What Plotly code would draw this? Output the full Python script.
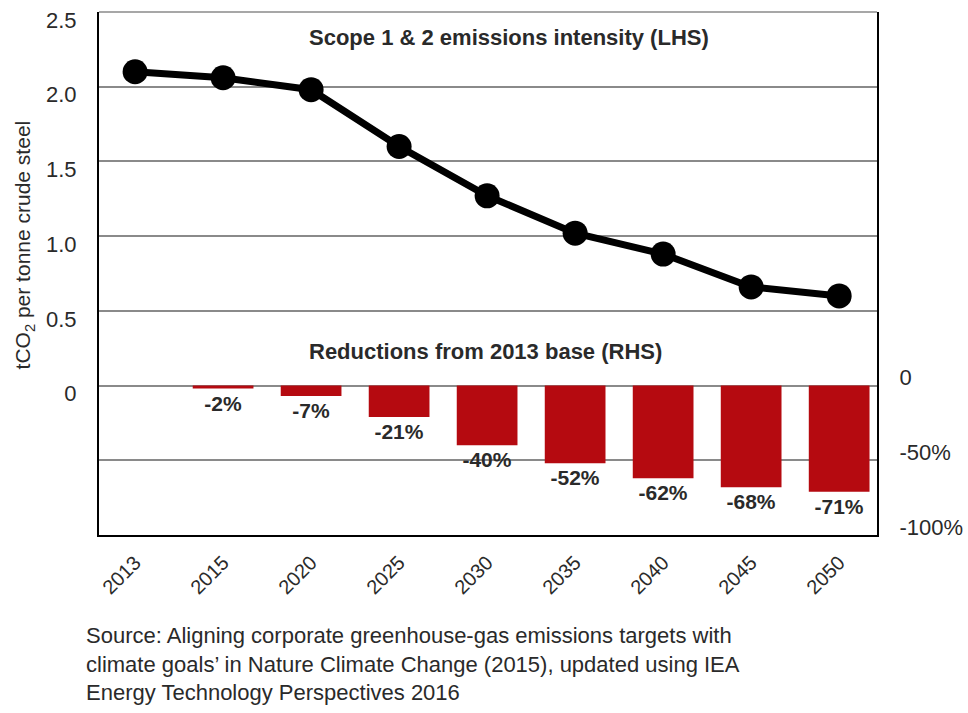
import plotly.graph_objects as go

# ---- data ----
years = ["2013", "2015", "2020", "2025", "2030", "2035", "2040", "2045", "2050"]
intensity = [2.10, 2.06, 1.98, 1.60, 1.27, 1.02, 0.88, 0.66, 0.60]
reduction_years = ["2015", "2020", "2025", "2030", "2035", "2040", "2045", "2050"]
reductions = [-2, -7, -21, -40, -52, -62, -68, -71]
left_ticks = [0, 0.5, 1.0, 1.5, 2.0, 2.5]
left_labels = ["0", "0.5", "1.0", "1.5", "2.0", "2.5"]
right_ticks = [0, -50, -100]
right_labels = ["0", "-50%", "-100%"]

FONT = "Liberation Sans, Arial, Helvetica, sans-serif"
TXT = "#2a2a2a"
GRID = "#8a8a8a"

fig = go.Figure()

fig.add_trace(go.Bar(
    x=reduction_years, y=reductions, yaxis="y2",
    marker=dict(color="#B50A10", line=dict(width=0)),
    width=0.69,
    text=[f"<b>{v}%</b>" for v in reductions],
    textposition="outside",
    textfont=dict(family=FONT, size=21, color=TXT),
    cliponaxis=False,
    hoverinfo="skip",
))

fig.add_trace(go.Scatter(
    x=years, y=intensity, mode="lines+markers",
    line=dict(color="black", width=7),
    marker=dict(color="black", size=25),
    cliponaxis=False,
))

fig.update_layout(
    width=968, height=713,
    margin=dict(l=99, r=91, t=12, b=178),
    paper_bgcolor="white", plot_bgcolor="white",
    showlegend=False,
    font=dict(family=FONT, size=19, color=TXT),
    xaxis=dict(
        type="category", categoryorder="array", categoryarray=years,
        range=[-0.41, 8.43], automargin=False,
        showline=True, linecolor="black", linewidth=2,
        showgrid=False, ticks="", tickangle=-45,
        tickfont=dict(size=20, color=TXT),
        ticklabelstandoff=6,
    ),
    yaxis=dict(
        range=[-1.0, 2.5], automargin=False,
        tickvals=left_ticks, ticktext=left_labels,
        showgrid=True, gridcolor=GRID, gridwidth=1.5,
        zeroline=False,
        showline=True, linecolor="black", linewidth=2,
        ticks="", tickfont=dict(size=22, color=TXT),
        ticklabelshift=8, ticklabelstandoff=16,
    ),
    yaxis2=dict(
        range=[-100, 250], overlaying="y", side="right", automargin=False,
        tickvals=right_ticks, ticktext=right_labels,
        showgrid=True, gridcolor=GRID, gridwidth=1.5,
        zeroline=False,
        showline=True, linecolor="black", linewidth=2,
        ticks="", tickfont=dict(size=22, color=TXT),
        ticklabelshift=-8, ticklabelstandoff=16,
    ),
    shapes=[
        dict(type="line", xref="paper", yref="paper", x0=0, x1=1, y0=1, y1=1,
             line=dict(color=GRID, width=1.5), layer="below"),
    ],
    annotations=[
        dict(text="tCO<sub>2</sub> per tonne crude steel",
             xref="paper", yref="y", x=-0.096, y=0.94, textangle=-90,
             xanchor="center", yanchor="middle",
             showarrow=False, font=dict(size=21, color=TXT)),
        dict(text="<b>Scope 1 &amp; 2 emissions intensity (LHS)</b>",
             xref="paper", yref="y", x=0.527, y=2.33,
             showarrow=False, font=dict(size=22, color=TXT)),
        dict(text="<b>Reductions from 2013 base (RHS)</b>",
             xref="paper", yref="y", x=0.497, y=0.23,
             showarrow=False, font=dict(size=22, color=TXT)),
        dict(text="Source: Aligning corporate greenhouse-gas emissions targets with<br>"
                  "climate goals’ in Nature Climate Change (2015), updated using IEA<br>"
                  "Energy Technology Perspectives 2016",
             xref="paper", yref="paper", x=-0.019, y=-0.165,
             xanchor="left", yanchor="top", align="left",
             showarrow=False, font=dict(size=22, color=TXT)),
    ],
)

fig.write_html("out.html")
